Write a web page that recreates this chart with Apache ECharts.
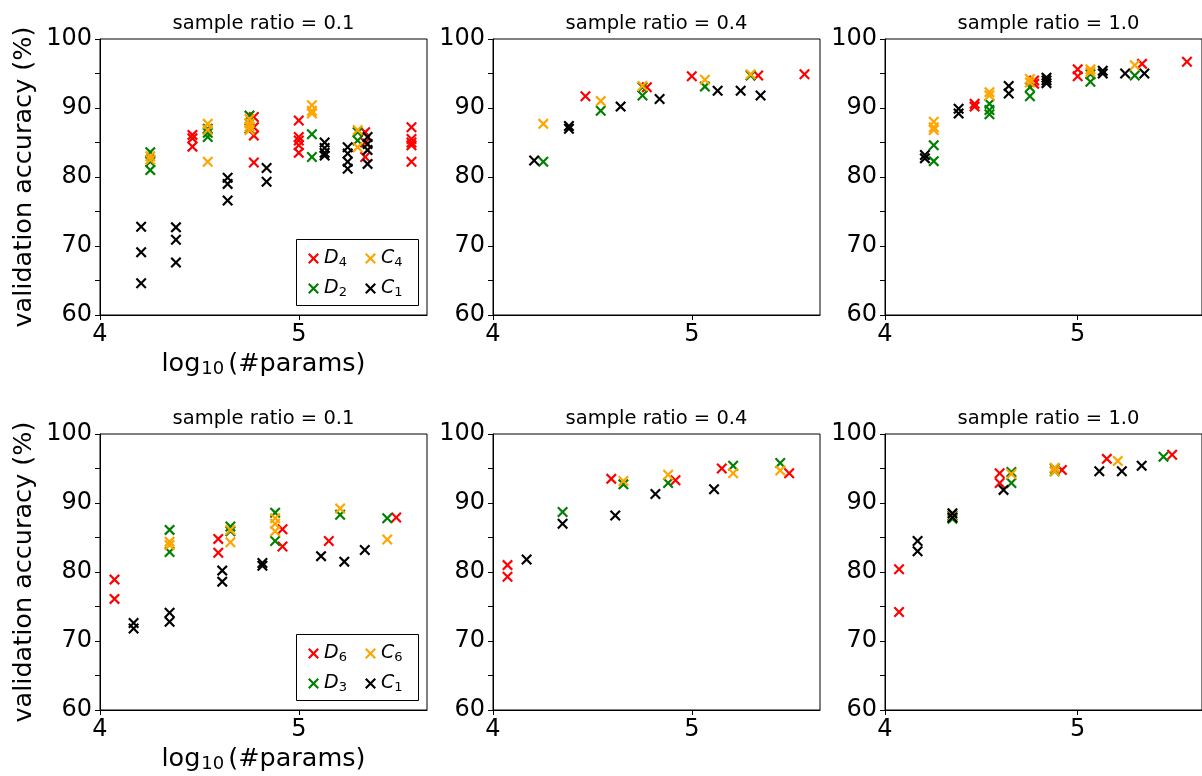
<!DOCTYPE html>
<html>
<head>
<meta charset="utf-8">
<script src="https://cdn.jsdelivr.net/npm/echarts@6/dist/echarts.min.js"></script>
<style>
html,body{margin:0;padding:0;background:#fff;}
#c{width:1202px;height:776px;}
</style>
</head>
<body>
<div id="c"></div>
<script>
// ---- data ----
const ratios = ['0.1', '0.4', '1.0'];
// top row model sizes, log10(#params)
const xD4 = [4.465, 4.774, 5.0, 5.334, 5.567];
const xD2 = [4.253, 4.542, 4.752, 5.066, 5.296];
const xC4 = [4.253, 4.542, 4.752, 5.066, 5.296];
const xC1a = [4.207, 4.382, 4.642, 4.838, 5.13, 5.246, 5.346];
// bottom row model sizes
const xD6 = [4.073, 4.595, 4.918, 5.151, 5.49];
const xD3 = [4.35, 4.656, 4.881, 5.208, 5.445];
const xC6 = [4.35, 4.656, 4.881, 5.208, 5.445];
const xC1b = [4.169, 4.35, 4.615, 4.817, 5.112, 5.229, 5.332];

// top row accuracies (runs per model)
const yD4_01 = [[86.1, 85.6, 84.4], [88.7, 87.2, 86.0, 82.1], [88.2, 85.8, 85.3, 84.6, 83.5], [86.5, 85.0, 82.9], [87.2, 85.5, 85.0, 84.6, 82.2]];
const yD2_01 = [[83.6, 82.2, 81.0], [87.0, 86.4, 85.8], [88.9, 87.0], [86.2, 82.9], [86.5, 85.3]];
const yC4_01 = [[83.0, 82.5], [87.7, 86.8, 82.2], [88.4, 87.8, 87.3, 86.8], [90.4, 89.6, 89.2], [86.8, 84.3]];
const yC1a_01 = [[72.8, 69.1, 64.6], [72.7, 70.9, 67.6], [79.9, 79.0, 76.6], [81.3, 79.3], [85.0, 84.2, 83.5, 83.1], [84.3, 83.4, 82.2, 81.2], [85.8, 84.8, 83.9, 81.9]];

const yD4_04 = [[91.7], [93.0], [94.6], [94.7], [94.9]];
const yD2_04 = [[82.2], [89.6], [91.8, 93.0], [93.1], [94.7]];
const yC4_04 = [[87.7], [91.0], [93.2], [94.1], [94.9]];
const yC1a_04 = [[82.4], [87.4, 87.0], [90.2], [91.3], [92.5], [92.5], [91.8]];

const yD4_10 = [[90.6, 90.2], [94.0, 93.5], [95.6, 94.6], [96.4], [96.7]];
const yD2_10 = [[84.6, 82.3], [90.6, 89.7, 89.1], [93.0, 91.7], [94.9, 93.8], [94.7]];
const yC4_10 = [[88.0, 87.2, 86.8], [92.3, 91.8], [94.2, 93.7], [95.6, 95.2], [96.2]];
const yC1a_10 = [[83.2, 82.7], [89.9, 89.2], [93.2, 92.1], [94.4, 94.0, 93.6], [95.4, 95.0], [95.0], [95.0]];

// bottom row accuracies
const yD6_01 = [[78.9, 76.1], [84.8, 82.8], [86.2, 83.7], [84.5], [87.9]];
const yD3_01 = [[86.1, 82.9], [86.6, 85.9], [88.6, 84.5], [88.3], [87.8]];
const yC6_01 = [[84.4, 83.9], [86.1, 84.3], [87.8, 87.0, 85.9], [89.2], [84.7]];
const yC1b_01 = [[72.6, 71.8], [74.1, 72.8], [80.2, 78.6], [81.3, 80.9], [82.3], [81.5], [83.2]];

const yD6_04 = [[81.0, 79.3], [93.5], [93.3], [95.0], [94.3]];
const yD3_04 = [[88.7], [92.7], [92.9], [95.4], [95.8]];
const yC6_04 = [[], [93.2], [94.1], [94.3], [94.7]];
const yC1b_04 = [[81.8], [87.0], [88.2], [91.3], [92.0], [], []];

const yD6_10 = [[80.4, 74.2], [94.3, 92.9], [94.8], [96.4], [97.0]];
const yD3_10 = [[88.2, 87.7], [94.5, 92.9], [95.0, 94.6], [], [96.7]];
const yC6_10 = [[88.0], [94.2], [95.1, 94.6], [96.1], []];
const yC1b_10 = [[84.5, 83.0], [88.5, 87.9], [91.9], [], [94.6], [94.6], [95.4]];

const topNames = ['D4', 'D2', 'C4', 'C1'];
const botNames = ['D6', 'D3', 'C6', 'C1'];
const colors = ['#ff0000', '#008000', '#ffa500', '#000000'];

// ---- layout ----
const FONT = 'DejaVu Sans';
const lefts = [100, 493, 885];
const tops = [39, 434];
const W = 327, H = 276;
const SYM = 'path://M0,1.4L1.4,0L5,3.6L8.6,0L10,1.4L6.4,5L10,8.6L8.6,10L5,6.4L1.4,10L0,8.6L3.6,5Z';

const panels = [
  {xs: [xD4, xD2, xC4, xC1a], ys: [yD4_01, yD2_01, yC4_01, yC1a_01], names: topNames},
  {xs: [xD4, xD2, xC4, xC1a], ys: [yD4_04, yD2_04, yC4_04, yC1a_04], names: topNames},
  {xs: [xD4, xD2, xC4, xC1a], ys: [yD4_10, yD2_10, yC4_10, yC1a_10], names: topNames},
  {xs: [xD6, xD3, xC6, xC1b], ys: [yD6_01, yD3_01, yC6_01, yC1b_01], names: botNames},
  {xs: [xD6, xD3, xC6, xC1b], ys: [yD6_04, yD3_04, yC6_04, yC1b_04], names: botNames},
  {xs: [xD6, xD3, xC6, xC1b], ys: [yD6_10, yD3_10, yC6_10, yC1b_10], names: botNames}
];

const grid = [], xAxis = [], yAxis = [], series = [], title = [];
panels.forEach((p, i) => {
  const col = i % 3, row = Math.floor(i / 3);
  grid.push({left: lefts[col], top: tops[row], width: W, height: H, show: true,
    borderColor: '#000', borderWidth: 1, backgroundColor: 'transparent'});
  const xa = {
    type: 'value', gridIndex: i, min: 4, max: 5.645, interval: 1,
    axisLine: {show: true, lineStyle: {color: '#000', width: 1}},
    axisTick: {show: true, length: 5, lineStyle: {color: '#000', width: 1}},
    axisLabel: {fontSize: 24, fontFamily: FONT, color: '#000', margin: 8,
      showMaxLabel: false, formatter: v => (Math.abs(v - Math.round(v)) < 1e-9 ? String(Math.round(v)) : '')},
    splitLine: {show: false}
  };
  const ya = {
    type: 'value', gridIndex: i, min: 60, max: 100, interval: 5,
    axisLine: {show: true, lineStyle: {color: '#000', width: 1}},
    axisTick: {show: true, length: 5, lineStyle: {color: '#000', width: 1}},
    axisLabel: {fontSize: 24, fontFamily: FONT, color: '#000', margin: 8,
      formatter: v => (v % 10 === 0 ? String(v) : '')},
    splitLine: {show: false}
  };
  if (col === 0) {
    xa.name = '{n|log}{s|10}{p|(#params)}';
    xa.nameLocation = 'middle';
    xa.nameGap = 35;
    xa.nameTextStyle = {rich: {
      n: {fontSize: 25.5, fontFamily: FONT, color: '#000'},
      p: {fontSize: 25.5, fontFamily: FONT, color: '#000', padding: [0, 0, 0, 4]},
      s: {fontSize: 18, fontFamily: FONT, color: '#000', padding: [10, 0, 0, 1]}
    }};
    ya.name = 'validation accuracy (%)';
    ya.nameLocation = 'middle';
    ya.nameRotate = 90;
    ya.nameGap = 63;
    ya.nameTextStyle = {fontSize: 25.5, fontFamily: FONT, color: '#000'};
  }
  xAxis.push(xa);
  yAxis.push(ya);
  title.push({text: 'sample ratio = ' + ratios[col], left: lefts[col] + W / 2, top: tops[row] - 25,
    textAlign: 'center', padding: 0,
    textStyle: {fontSize: 19.5, fontFamily: FONT, fontWeight: 'normal', color: '#000'}});
  p.names.forEach((nm, k) => {
    const data = [];
    p.xs[k].forEach((xv, j) => { (p.ys[k][j] || []).forEach(yv => data.push([xv, yv])); });
    series.push({
      type: 'scatter', name: nm, xAxisIndex: i, yAxisIndex: i, data: data,
      symbol: SYM, symbolSize: 11, itemStyle: {color: colors[k], opacity: 1},
      emphasis: {disabled: true}, z: 2 + k * 0.01
    });
  });
});

const legendFmt = name => '{i|' + name[0] + '}{s|' + name.slice(1) + '}';
const legendText = {
  lineHeight: 20,
  rich: {
    i: {fontSize: 19, fontFamily: FONT, fontStyle: 'italic', color: '#000', lineHeight: 20},
    s: {fontSize: 13, fontFamily: FONT, color: '#000', padding: [8, 0, 0, 0], lineHeight: 20}
  }
};
function mkLegend(data, left, top) {
  return {data: data, left: left, top: top, orient: 'vertical', itemGap: 9,
    itemWidth: 11, itemHeight: 11, padding: 0, itemStyle: {opacity: 1},
    formatter: legendFmt, textStyle: legendText, selectedMode: false, z: 10};
}
const legend = [
  mkLegend(['D4', 'D2'], 308, 248),
  mkLegend(['C4', 'C1'], 365, 248),
  mkLegend(['D6', 'D3'], 308, 643),
  mkLegend(['C6', 'C1'], 365, 643)
];

const graphic = [
  {type: 'rect', shape: {x: 296.5, y: 239.5, width: 122, height: 66}, z: 8,
    style: {fill: '#fff', stroke: '#000', lineWidth: 1}},
  {type: 'rect', shape: {x: 296.5, y: 634.5, width: 122, height: 66}, z: 8,
    style: {fill: '#fff', stroke: '#000', lineWidth: 1}}
];

const chart = echarts.init(document.getElementById('c'), null, {renderer: 'canvas'});
chart.setOption({
  animation: false,
  backgroundColor: '#fff',
  title: title, grid: grid, xAxis: xAxis, yAxis: yAxis, series: series,
  legend: legend, graphic: graphic
});
</script>
</body>
</html>
